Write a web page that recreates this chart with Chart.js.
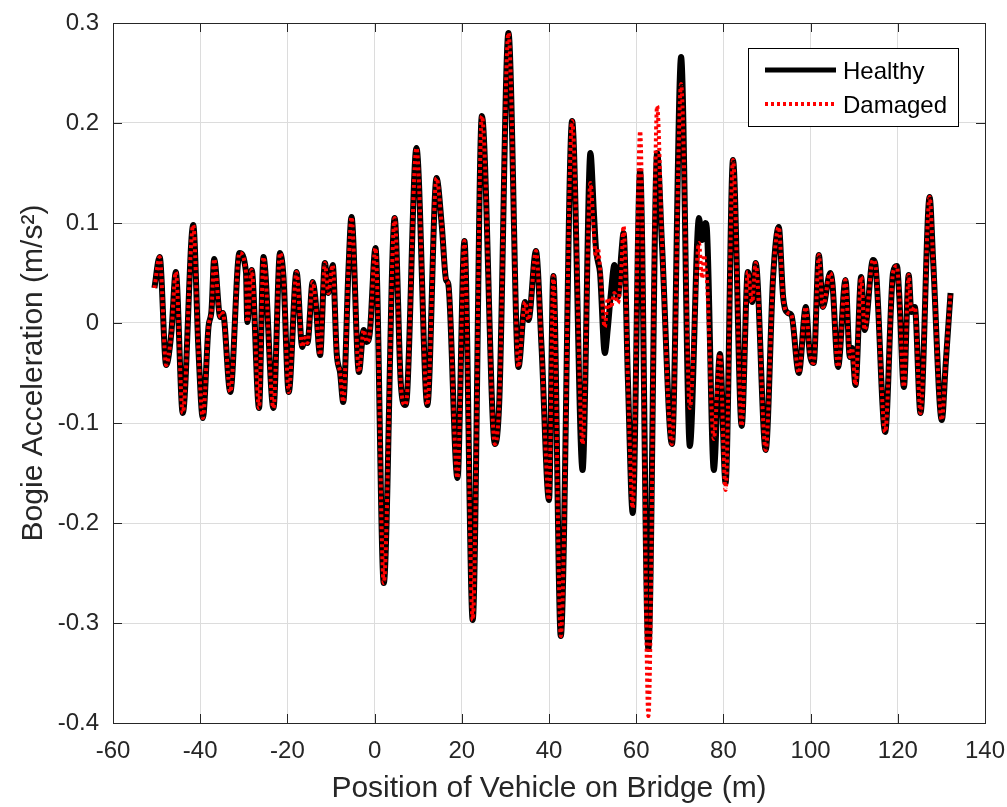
<!DOCTYPE html>
<html>
<head>
<meta charset="utf-8">
<script src="https://cdn.jsdelivr.net/npm/chart.js@4.4.1/dist/chart.umd.min.js"></script>
<style>
  html, body { margin: 0; padding: 0; background: #fff; }
  #wrap { position: relative; width: 1007px; height: 807px; }
</style>
</head>
<body>
<div id="wrap"><canvas id="accChart" width="1007" height="807"></canvas></div>
<script>
// vehicle position on bridge (m)
const positions = [
  -50.5, -49.3, -47.8, -46.6, -45.6, -44.0, -41.6, -40.4, -39.4, -38.1, -37.4, -36.8, -35.4, -34.8,
  -33.1, -31.0, -29.5, -29.2, -28.2, -26.5, -25.5, -23.2, -21.7, -20.9, -19.7, -17.9,
  -16.6, -16.0, -15.4, -14.2, -13.6, -12.5, -11.4, -10.6, -9.6, -8.7, -7.9, -7.2, -6.0, -5.3,
  -3.6, -2.5, -1.8, -1.1, 0.2, 2.1, 4.6, 6.0, 7.0, 7.4, 9.6, 12.1, 14.2, 15.4, 16.4, 16.9,
  19.0, 20.6, 22.5, 24.6, 27.6, 28.6, 30.7, 33.0, 34.5, 35.3, 37.0, 38.3, 40.0, 41.0, 42.7, 45.3, 47.7, 49.5,
  50.3, 50.8, 51.2, 51.7, 52.8, 53.5, 54.2, 55.0, 55.8, 56.6, 57.1, 58.1, 59.2, 60.9, 62.8, 64.8,
  65.9, 68.2, 70.3, 72.3, 74.4, 75.1, 75.6, 75.9, 76.2, 77.8, 79.2, 80.5, 82.2, 84.2,
  85.6, 86.6, 87.4, 89.7, 91.4, 92.7, 93.7, 94.8, 95.6, 97.3, 98.9, 99.8, 100.7, 101.9, 102.8,
  104.5, 105.0, 106.3, 108.0, 109.0, 109.5, 110.3, 111.6, 112.4, 114.3, 114.8, 117.1, 118.9, 119.8,
  120.3, 121.4, 122.5, 123.1, 123.9, 125.2, 127.3, 128.1, 130.1, 131.0, 132.1
];

// bogie acceleration, healthy bridge (m/s^2)
const healthy = [
  0.035, 0.066, -0.042, -0.009, 0.051, -0.090, 0.098, -0.027, -0.095, -0.004, 0.013, 0.064, 0.006, 0.010,
  -0.069, 0.070, 0.051, 0.001, 0.053, -0.085, 0.066, -0.085, 0.070, 0.046, -0.069, 0.051,
  -0.024, -0.015, -0.020, 0.041, 0.025, -0.032, 0.060, 0.030, 0.058, -0.030, -0.050, -0.079, 0.053, 0.106,
  -0.049, -0.007, -0.019, -0.010, 0.075, -0.260, 0.105, -0.060, -0.082, -0.075, 0.175, -0.082, 0.145, 0.098, 0.043, 0.039,
  -0.155, 0.082, -0.297, 0.207, -0.121, -0.078, 0.290, -0.044, 0.021, 0.003, 0.072, -0.025, -0.177, 0.047, -0.313, 0.202, -0.147, 0.170,
  0.110, 0.073, 0.062, 0.050, -0.030, -0.005, 0.030, 0.058, 0.026, 0.070, 0.090, -0.057, -0.190, 0.152, -0.326, 0.170,
  0.080, -0.121, 0.266, -0.123, 0.105, 0.083, 0.092, 0.100, 0.095, -0.147, -0.031, -0.160, 0.163, -0.103,
  0.051, 0.021, 0.060, -0.127, 0.046, 0.096, 0.026, 0.010, 0.008, -0.050, 0.016, -0.030, -0.040, 0.068, 0.016,
  0.050, 0.040, -0.044, 0.043, -0.034, -0.025, -0.062, 0.046, -0.007, 0.063, 0.060, -0.109, 0.050, 0.057,
  0.030, -0.064, 0.048, 0.011, 0.016, -0.090, 0.126, 0.063, -0.097, -0.040, 0.030
];

// bogie acceleration, damaged bridge (m/s^2)
const damaged = [
  0.035, 0.066, -0.042, -0.009, 0.051, -0.090, 0.098, -0.027, -0.095, -0.004, 0.013, 0.064, 0.006, 0.010,
  -0.069, 0.070, 0.051, 0.001, 0.053, -0.085, 0.066, -0.085, 0.070, 0.046, -0.069, 0.051,
  -0.024, -0.015, -0.020, 0.041, 0.025, -0.032, 0.060, 0.030, 0.058, -0.030, -0.050, -0.079, 0.053, 0.106,
  -0.049, -0.007, -0.019, -0.010, 0.075, -0.260, 0.105, -0.060, -0.082, -0.075, 0.175, -0.082, 0.145, 0.098, 0.043, 0.039,
  -0.155, 0.082, -0.297, 0.207, -0.121, -0.078, 0.290, -0.044, 0.021, 0.003, 0.072, -0.025, -0.177, 0.047, -0.313, 0.202, -0.121, 0.140,
  0.090, 0.065, 0.075, 0.055, -0.004, 0.025, 0.015, 0.030, 0.020, 0.055, 0.097, -0.057, -0.185, 0.192, -0.393, 0.217,
  0.085, -0.121, 0.239, -0.085, 0.080, 0.045, 0.068, 0.055, 0.045, -0.116, -0.031, -0.167, 0.163, -0.103,
  0.051, 0.021, 0.060, -0.127, 0.046, 0.096, 0.026, 0.010, 0.008, -0.050, 0.016, -0.030, -0.040, 0.068, 0.016,
  0.050, 0.040, -0.044, 0.043, -0.034, -0.025, -0.062, 0.046, -0.007, 0.063, 0.060, -0.109, 0.050, 0.057,
  0.030, -0.064, 0.048, 0.011, 0.016, -0.090, 0.126, 0.063, -0.097, -0.040, 0.030
];

const xTicks = [-60, -40, -20, 0, 20, 40, 60, 80, 100, 120, 140];
const yTicks = [-0.4, -0.3, -0.2, -0.1, 0, 0.1, 0.2, 0.3];
const seriesNames = ["Healthy", "Damaged"];

const FONT = "'Liberation Sans', Arial, Helvetica, sans-serif";
const TEXT = "#262626";

const toPoints = (ys) => positions.map((x, i) => ({ x: x, y: ys[i] }));

// box, inward ticks and the legend, MATLAB style
const axesBox = {
  id: "axesBox",
  afterDatasetsDraw(chart) {
    const { ctx, chartArea: a, scales } = chart;
    ctx.save();
    ctx.strokeStyle = TEXT;
    ctx.lineWidth = 1;
    ctx.beginPath();
    xTicks.forEach((v) => {
      const px = Math.round(scales.x.getPixelForValue(v)) + 0.5;
      ctx.moveTo(px, a.bottom); ctx.lineTo(px, a.bottom - 9);
      ctx.moveTo(px, a.top); ctx.lineTo(px, a.top + 9);
    });
    yTicks.forEach((v) => {
      const py = Math.round(scales.y.getPixelForValue(v)) + 0.5;
      ctx.moveTo(a.left, py); ctx.lineTo(a.left + 9, py);
      ctx.moveTo(a.right, py); ctx.lineTo(a.right - 9, py);
    });
    ctx.stroke();
    ctx.strokeRect(Math.round(a.left) + 0.5, Math.round(a.top) + 0.5,
      Math.round(a.right - a.left), Math.round(a.bottom - a.top));

    // legend
    const lx = a.right - 237, ly = a.top + 25, lw = 210, lh = 78;
    ctx.fillStyle = "#fff";
    ctx.fillRect(lx, ly, lw, lh);
    ctx.strokeStyle = "#000";
    ctx.strokeRect(lx + 0.5, ly + 0.5, lw, lh);
    ctx.lineWidth = 5;
    ctx.strokeStyle = "#000";
    ctx.beginPath(); ctx.moveTo(lx + 17, ly + 22); ctx.lineTo(lx + 88, ly + 22); ctx.stroke();
    ctx.lineWidth = 4;
    ctx.strokeStyle = "#ff0000";
    ctx.setLineDash([3, 3]);
    ctx.beginPath(); ctx.moveTo(lx + 17, ly + 56); ctx.lineTo(lx + 88, ly + 56); ctx.stroke();
    ctx.setLineDash([]);
    ctx.fillStyle = "#000";
    ctx.font = "24px " + FONT;
    ctx.textBaseline = "middle";
    ctx.fillText(seriesNames[0], lx + 95, ly + 24);
    ctx.fillText(seriesNames[1], lx + 95, ly + 58);
    ctx.restore();
  }
};

const ctx = document.getElementById("accChart").getContext("2d");
const chart = new Chart(ctx, {
  type: "line",
  data: {
    datasets: [
      {
        label: seriesNames[0],
        data: toPoints(healthy),
        borderColor: "#000000",
        borderWidth: 6,
        pointRadius: 0,
        cubicInterpolationMode: "monotone",
        order: 2,
      },
      {
        label: seriesNames[1],
        data: toPoints(damaged),
        borderColor: "#ff0000",
        borderWidth: 4,
        borderDash: [3, 3],
        pointRadius: 0,
        cubicInterpolationMode: "monotone",
        order: 1,
      },
    ],
  },
  options: {
    responsive: false,
    animation: false,
    events: [],
    layout: { padding: { top: 23, right: 22, left: 0, bottom: 0 } },
    plugins: { legend: { display: false }, tooltip: { enabled: false } },
    scales: {
      x: {
        type: "linear",
        min: -60,
        max: 140,
        afterBuildTicks: (s) => { s.ticks = xTicks.map((v) => ({ value: v })); },
        afterFit: (s) => { s.height = 84; s.paddingLeft = 0; s.paddingRight = 0; },
        grid: { color: "#dcdcdc", lineWidth: 1, drawTicks: false },
        border: { display: false },
        ticks: { padding: 14, color: TEXT, font: { family: FONT, size: 24 }, maxRotation: 0 },
        title: {
          display: true,
          text: "Position of Vehicle on Bridge (m)",
          color: TEXT,
          font: { family: FONT, size: 30 },
          padding: { top: 0, bottom: 0 },
        },
      },
      y: {
        type: "linear",
        min: -0.4,
        max: 0.3,
        afterBuildTicks: (s) => { s.ticks = yTicks.map((v) => ({ value: v })); },
        afterFit: (s) => { s.width = 113; s.paddingTop = 0; s.paddingBottom = 0; },
        grid: { color: "#dcdcdc", lineWidth: 1, drawTicks: false },
        border: { display: false },
        ticks: {
          padding: 14,
          color: TEXT,
          font: { family: FONT, size: 24 },
          callback: (v) => String(Number(v.toFixed(1))),
        },
        title: {
          display: true,
          text: "Bogie Acceleration (m/s²)",
          color: TEXT,
          font: { family: FONT, size: 30 },
          padding: { top: 16, bottom: 0 },
        },
      },
    },
  },
  plugins: [axesBox],
});
</script>
</body>
</html>
